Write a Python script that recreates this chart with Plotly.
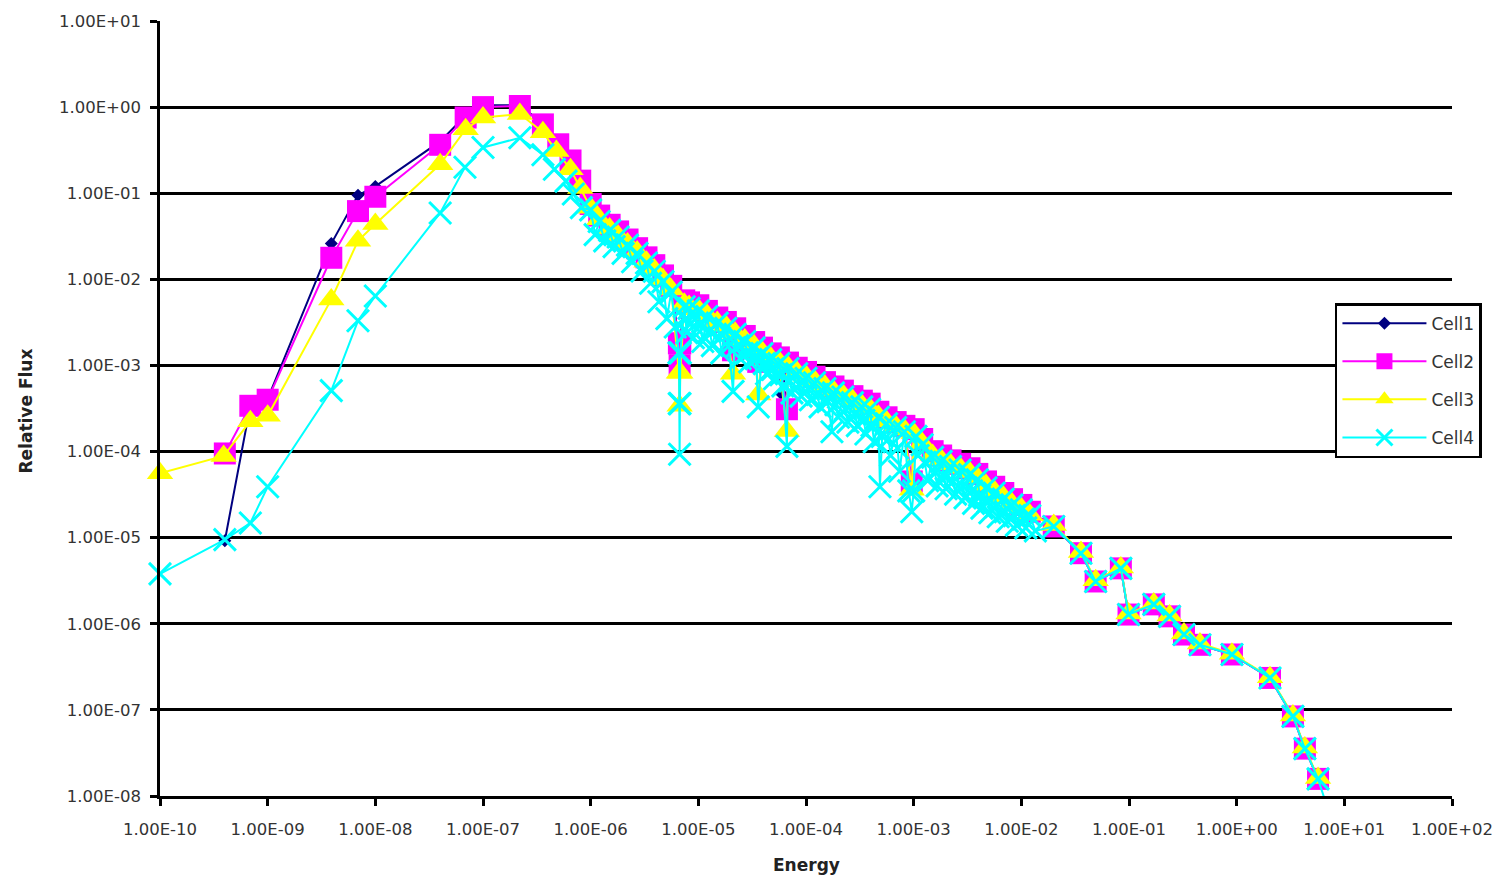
import plotly.graph_objects as go

# ---------------- data ----------------
series_names = ["Cell1", "Cell2", "Cell3", "Cell4"]

# Cell1
cell1_energy_low = [4e-10, 6.9e-10, 1e-9, 3.9e-9, 6.9e-9, 1e-8, 4e-8, 6.9e-8, 1e-7, 2.2e-7, 3.6e-7, 5e-7, 6.5e-7, 8e-7]
cell1_flux_low = [9.2e-6, 3.4e-4, 4.1e-4, 0.026, 0.095, 0.12, 0.40, 0.80, 1.05, 1.05, 0.64, 0.38, 0.24, 0.14]
cell1_energy_mid = [1e-6, 1.2e-6, 1.5e-6, 1.8e-6, 2.2e-6, 2.7e-6, 3.3e-6, 3.9e-6, 4.7e-6, 5.6e-6, 6.6e-6, 6.7e-6, 6.8e-6,
                    7.4e-6, 8.2e-6, 1e-5, 1.2e-5, 1.5e-5, 1.8e-5, 2.2e-5, 2.7e-5, 3.3e-5, 3.9e-5, 4.7e-5, 5.6e-5, 5.9e-5,
                    6.8e-5, 8.2e-5, 1e-4, 1.2e-4, 1.5e-4, 1.8e-4, 2.2e-4, 2.7e-4, 3.3e-4, 3.9e-4, 4.7e-4, 5.6e-4, 6.8e-4,
                    8.2e-4, 1e-3, 1.2e-3, 1.5e-3, 1.8e-3, 2.2e-3, 2.7e-3, 3.3e-3, 3.9e-3, 4.7e-3, 5.6e-3, 6.8e-3, 8.2e-3,
                    1e-2, 1.2e-2]
cell1_flux_mid = [0.076, 0.056, 0.044, 0.037, 0.029, 0.023, 0.018, 0.0147, 0.0112, 0.0085, 0.0019, 0.0011, 0.0019,
                  0.0058, 0.0055, 0.0051, 0.0044, 0.0036, 0.0032, 0.0027, 0.0022, 0.0019, 0.0016, 0.0014, 0.00125, 0.00047,
                  0.0011, 0.00095, 0.00085, 0.00075, 0.00065, 0.00058, 0.00052, 0.00045, 0.0004, 0.00036, 0.0003, 0.00025,
                  0.00022, 0.0002, 0.00018, 0.00014, 0.0001, 9.0e-5, 8.0e-5, 7.2e-5, 6.4e-5, 5.5e-5, 4.5e-5, 3.9e-5,
                  3.3e-5, 2.8e-5, 2.4e-5, 2.0e-5]

# shared fast-energy tail grid
tail_energy = [0.02, 0.0358, 0.049, 0.084, 0.099, 0.17, 0.238, 0.324, 0.456, 0.904, 2.04, 3.33, 4.3, 5.7]
cell1_flux_tail = [1.35e-5, 6.6e-6, 3.1e-6, 4.4e-6, 1.28e-6, 1.68e-6, 1.22e-6, 7.5e-7, 5.7e-7, 4.4e-7, 2.35e-7, 8.4e-8, 3.55e-8, 1.58e-8]

# Cell2
cell2_energy_low = [4e-10, 6.9e-10, 1e-9, 3.9e-9, 6.9e-9, 1e-8, 4e-8, 6.9e-8, 1e-7, 2.2e-7, 3.6e-7, 5e-7, 6.5e-7, 8e-7]
cell2_flux_low = [9.5e-5, 3.4e-4, 4.0e-4, 0.0178, 0.062, 0.091, 0.365, 0.757, 1.0, 1.03, 0.63, 0.37, 0.24, 0.14]
# shared epithermal grid for Cell2 / Cell3
mid_energy = [1e-6, 1.2e-6, 1.5e-6, 1.8e-6, 2.2e-6, 2.7e-6, 3.3e-6, 3.9e-6, 4.7e-6, 5.6e-6, 6.6e-6, 6.7e-6, 6.8e-6,
              7.4e-6, 8.2e-6, 1e-5, 1.2e-5, 1.5e-5, 1.8e-5, 2.1e-5, 2.2e-5, 2.7e-5, 3.3e-5, 3.6e-5, 3.9e-5, 4.7e-5,
              5.6e-5, 6.65e-5, 6.8e-5, 8.2e-5, 1e-4, 1.2e-4, 1.5e-4, 1.8e-4, 2.2e-4, 2.7e-4, 3.3e-4, 3.9e-4, 4.7e-4,
              5.6e-4, 6.8e-4, 8.2e-4, 9.6e-4, 1e-3, 1.2e-3, 1.5e-3, 1.8e-3, 2.2e-3, 2.7e-3, 3.3e-3, 3.9e-3, 4.7e-3,
              5.6e-3, 6.8e-3, 8.2e-3, 1e-2, 1.2e-2]
cell2_flux_mid = [0.075, 0.055, 0.043, 0.036, 0.029, 0.023, 0.018, 0.0146, 0.0111, 0.0084, 0.0018, 0.001, 0.0018,
                  0.0057, 0.0054, 0.005, 0.0043, 0.0036, 0.0032, 0.0015, 0.0027, 0.0022, 0.00187, 0.0011, 0.00161,
                  0.00138, 0.00124, 0.00031, 0.00108, 0.00094, 0.00084, 0.00074, 0.00064, 0.00057, 0.00051, 0.00044,
                  0.00039, 0.00036, 0.00029, 0.00025, 0.00022, 0.000199, 4.5e-5, 0.000182, 0.00014, 0.000101, 9.0e-5,
                  7.9e-5, 7.2e-5, 6.4e-5, 5.5e-5, 4.5e-5, 3.9e-5, 3.3e-5, 2.8e-5, 2.4e-5, 2.0e-5]
cell2_flux_tail = [1.35e-5, 6.6e-6, 3.1e-6, 4.4e-6, 1.28e-6, 1.68e-6, 1.22e-6, 7.5e-7, 5.7e-7, 4.4e-7, 2.35e-7, 8.4e-8, 3.55e-8, 1.58e-8]

# Cell3
cell3_energy_low = [1e-10, 3.9e-10, 6.9e-10, 1e-9, 3.9e-9, 6.9e-9, 1e-8, 4e-8, 6.9e-8, 1e-7, 2.2e-7, 3.6e-7, 4.8e-7, 6.5e-7, 8e-7]
cell3_flux_low = [5.6e-5, 8.9e-5, 2.25e-4, 2.6e-4, 5.85e-3, 0.028, 0.044, 0.217, 0.555, 0.757, 0.83, 0.51, 0.31, 0.19, 0.115]
cell3_flux_mid = [0.068, 0.05, 0.039, 0.032, 0.026, 0.021, 0.016, 0.013, 0.010, 0.0076, 8.2e-4, 3.4e-4, 8.2e-4,
                  0.0052, 0.0049, 0.0045, 0.0039, 0.0032, 0.0029, 8e-4, 0.0024, 0.002, 0.0017, 4.6e-4, 0.00145,
                  0.00124, 0.00112, 1.73e-4, 0.00097, 0.00085, 0.00076, 0.00067, 0.00058, 0.00051, 0.00046, 0.0004,
                  0.00035, 0.00032, 0.00026, 0.000225, 0.0002, 0.00018, 3.6e-5, 0.000164, 0.000126, 9.1e-5, 8.1e-5,
                  7.1e-5, 6.5e-5, 5.8e-5, 5.0e-5, 4.1e-5, 3.5e-5, 3.0e-5, 2.5e-5, 2.2e-5, 1.85e-5]
cell3_flux_tail = [1.4e-5, 6.8e-6, 3.2e-6, 4.5e-6, 1.32e-6, 1.72e-6, 1.25e-6, 7.7e-7, 5.9e-7, 4.5e-7, 2.4e-7, 8.6e-8, 3.65e-8, 1.62e-8]

# Cell4
cell4_energy_low = [1e-10, 4e-10, 6.9e-10, 1e-9, 3.9e-9, 6.9e-9, 1e-8, 4e-8, 6.8e-8, 1e-7, 2.2e-7, 3.6e-7, 4.6e-7, 5.9e-7, 6.9e-7, 8.2e-7]
cell4_flux_low = [3.8e-6, 9.5e-6, 1.48e-5, 3.9e-5, 5.1e-4, 3.3e-3, 6.4e-3, 0.059, 0.20, 0.34, 0.44, 0.28, 0.19, 0.138, 0.098, 0.068]
cell4_energy_mid = [1e-6, 1.1e-6, 1.2e-6, 1.35e-6, 1.5e-6, 1.65e-6, 1.8e-6, 2.0e-6, 2.2e-6, 2.45e-6, 2.7e-6, 3.0e-6,
                    3.3e-6, 3.6e-6, 3.9e-6, 4.3e-6, 4.7e-6, 5.1e-6, 5.6e-6, 6.1e-6, 6.6e-6, 6.65e-6, 6.7e-6, 6.75e-6,
                    6.8e-6,
                    7.4e-6, 7.6e-6, 7.8e-6, 8.2e-6, 8.6e-6, 9.0e-6, 1e-5, 1.05e-5, 1.1e-5, 1.2e-5, 1.27e-5, 1.35e-5,
                    1.5e-5, 1.57e-5, 1.65e-5, 1.8e-5, 1.9e-5, 2.1e-5, 2.2e-5, 2.32e-5, 2.45e-5, 2.7e-5, 2.85e-5, 3.0e-5,
                    3.3e-5, 3.45e-5, 3.6e-5, 3.9e-5, 4.1e-5, 4.3e-5, 4.7e-5, 4.9e-5, 5.1e-5, 5.6e-5, 5.85e-5, 6.1e-5,
                    6.65e-5, 6.8e-5, 7.1e-5, 7.4e-5, 8.2e-5, 8.6e-5, 9.0e-5, 1e-4, 1.05e-4, 1.1e-4, 1.2e-4, 1.27e-4,
                    1.35e-4, 1.5e-4, 1.6e-4, 1.74e-4, 1.8e-4, 1.9e-4, 2.0e-4, 2.2e-4, 2.32e-4, 2.45e-4, 2.7e-4,
                    2.85e-4, 3.0e-4, 3.3e-4, 3.45e-4, 3.6e-4, 3.9e-4, 4.1e-4, 4.3e-4, 4.7e-4, 4.86e-4, 5.1e-4, 5.6e-4,
                    5.85e-4, 6.1e-4, 6.8e-4, 7.1e-4, 7.4e-4, 8.2e-4, 9.0e-4, 9.6e-4, 1e-3, 1.05e-3, 1.1e-3, 1.2e-3,
                    1.27e-3, 1.35e-3, 1.5e-3, 1.57e-3, 1.65e-3, 1.8e-3, 1.9e-3, 2.0e-3, 2.2e-3, 2.32e-3, 2.45e-3,
                    2.7e-3, 2.85e-3, 3.0e-3, 3.3e-3, 3.45e-3, 3.6e-3, 3.9e-3, 4.1e-3, 4.3e-3, 4.7e-3, 4.9e-3, 5.1e-3,
                    5.6e-3, 5.85e-3, 6.1e-3, 6.8e-3, 7.1e-3, 7.4e-3, 8.2e-3, 8.6e-3, 9.0e-3, 1e-2, 1.05e-2, 1.1e-2,
                    1.2e-2, 1.35e-2]
cell4_flux_mid = [0.064, 0.033, 0.047, 0.028, 0.037, 0.024, 0.031, 0.020, 0.025, 0.016, 0.020, 0.0125,
                  0.0155, 0.009, 0.0124, 0.0055, 0.0094, 0.0035, 0.0071, 0.0028, 0.0014, 3.6e-4, 9.3e-5, 3.6e-4,
                  0.0014,
                  0.0048, 0.0034, 0.0024, 0.0046, 0.0031, 0.0021, 0.0043, 0.0029, 0.0019, 0.0037, 0.0025, 0.0017,
                  0.0031, 0.0021, 0.0014, 0.0027, 0.0019, 5.0e-4, 0.0023, 0.0017, 0.0012, 0.0019, 0.0014, 0.0011,
                  0.0016, 0.0012, 3.3e-4, 0.00137, 0.00105, 8.0e-4, 0.00117, 9.0e-4, 7.0e-4, 0.00105, 7.8e-4, 5.8e-4,
                  1.15e-4, 0.00092, 6.6e-4, 4.8e-4, 0.0008, 6.0e-4, 4.4e-4, 0.00071, 5.3e-4, 4.0e-4, 0.00063, 4.6e-4,
                  3.3e-4, 0.00054, 3.8e-4, 1.7e-4, 0.00048, 3.5e-4, 2.5e-4, 0.00043, 3.1e-4, 2.2e-4, 0.00037,
                  2.7e-4, 2.0e-4, 0.00033, 2.3e-4, 1.6e-4, 0.00031, 2.0e-4, 1.3e-4, 0.00025, 3.9e-5, 1.5e-4, 0.00021,
                  1.4e-4, 9e-5, 0.00019, 1.1e-4, 5.9e-5, 0.00017, 3.5e-5, 2.0e-5, 3.5e-5, 0.00015, 9.0e-5, 0.00012,
                  7.5e-5, 4.6e-5, 8.6e-5, 5.8e-5, 4.0e-5, 7.7e-5, 5.2e-5, 3.7e-5, 6.7e-5, 4.5e-5, 3.2e-5,
                  6.1e-5, 4.0e-5, 2.9e-5, 5.4e-5, 3.5e-5, 2.5e-5, 4.7e-5, 3.1e-5, 2.2e-5, 3.8e-5, 2.6e-5, 1.95e-5,
                  3.3e-5, 2.3e-5, 1.75e-5, 2.8e-5, 2.0e-5, 1.55e-5, 2.4e-5, 1.8e-5, 1.4e-5, 2.1e-5, 1.65e-5, 1.3e-5,
                  1.8e-5, 1.2e-5]
cell4_energy_tail = [0.02, 0.0358, 0.049, 0.084, 0.099, 0.17, 0.238, 0.324, 0.456, 0.904, 2.04, 3.33, 4.3, 5.7, 6.6]
cell4_flux_tail = [1.35e-5, 6.6e-6, 3.1e-6, 4.4e-6, 1.28e-6, 1.68e-6, 1.22e-6, 7.5e-7, 5.7e-7, 4.4e-7, 2.35e-7, 8.4e-8, 3.55e-8, 1.58e-8, 9e-9]

# axis ticks
y_tick_values = [1e-8, 1e-7, 1e-6, 1e-5, 1e-4, 1e-3, 1e-2, 1e-1, 1e0, 1e1]
y_tick_text = ["1.00E-08", "1.00E-07", "1.00E-06", "1.00E-05", "1.00E-04", "1.00E-03", "1.00E-02", "1.00E-01", "1.00E+00", "1.00E+01"]
x_tick_values = [1e-10, 1e-9, 1e-8, 1e-7, 1e-6, 1e-5, 1e-4, 1e-3, 1e-2, 1e-1, 1e0, 1e1, 1e2]
x_tick_text = ["1.00E-10", "1.00E-09", "1.00E-08", "1.00E-07", "1.00E-06", "1.00E-05", "1.00E-04", "1.00E-03",
               "1.00E-02", "1.00E-01", "1.00E+00", "1.00E+01", "1.00E+02"]

# ---------------- assemble ----------------
series_x = [
    cell1_energy_low + cell1_energy_mid + tail_energy,
    cell2_energy_low + mid_energy + tail_energy,
    cell3_energy_low + mid_energy + tail_energy,
    cell4_energy_low + cell4_energy_mid + cell4_energy_tail,
]
series_y = [
    cell1_flux_low + cell1_flux_mid + cell1_flux_tail,
    cell2_flux_low + cell2_flux_mid + cell2_flux_tail,
    cell3_flux_low + cell3_flux_mid + cell3_flux_tail,
    cell4_flux_low + cell4_flux_mid + cell4_flux_tail,
]

colors = ["#000080", "#FF00FF", "#FFFF00", "#00FFFF"]
markers = [
    dict(symbol="diamond", size=10, color="#000080", line=dict(width=0)),
    dict(symbol="square", size=22, color="#FF00FF", line=dict(width=0)),
    dict(symbol="triangle-up", size=23, color="#FFFF00", line=dict(width=0)),
    dict(symbol="x-thin", size=22, color="#00FFFF", line=dict(width=3, color="#00FFFF")),
]

FONT = "DejaVu Sans"

fig = go.Figure()
for i, name in enumerate(series_names):
    fig.add_trace(go.Scatter(
        x=series_x[i], y=series_y[i], name=name, mode="lines+markers",
        line=dict(color=colors[i], width=2), marker=markers[i],
        cliponaxis=False, legendgroup=name,
    ))

fig.update_layout(
    width=1505, height=875,
    margin=dict(l=160, r=53, t=19, b=79),
    paper_bgcolor="white", plot_bgcolor="white",
    font=dict(family=FONT, size=16, color="#333333"),
    showlegend=True,
    legend=dict(
        x=0.9094, y=0.636, xanchor="left", yanchor="top",
        bordercolor="black", borderwidth=2.5, bgcolor="white",
        font=dict(family=FONT, size=17, color="#333333"),
        tracegroupgap=13, itemwidth=84,
    ),
    xaxis=dict(
        type="log", range=[-10, 2], tickvals=x_tick_values, ticktext=x_tick_text,
        showgrid=False, zeroline=False, showline=True, linecolor="black", linewidth=2.5,
        ticks="outside", ticklen=7, tickwidth=2.5, tickcolor="black",
        tickfont=dict(family=FONT, size=16.5, color="#333333"), ticklabelstandoff=9,
    ),
    yaxis=dict(
        type="log", range=[-8, 1], tickvals=y_tick_values, ticktext=y_tick_text,
        showgrid=True, gridcolor="black", gridwidth=2.5, zeroline=False,
        showline=True, linecolor="black", linewidth=2.5,
        ticks="outside", ticklen=7, tickwidth=2.5, tickcolor="black",
        tickfont=dict(family=FONT, size=16.5, color="#333333"), ticklabelstandoff=6,
    ),
    annotations=[
        dict(text="<b>Energy</b>", xref="paper", yref="paper", x=0.5, y=0, yshift=-69,
             showarrow=False, font=dict(family=FONT, size=17, color="#222222"), xanchor="center", yanchor="middle"),
        dict(text="<b>Relative Flux</b>", xref="paper", yref="paper", x=0, xshift=-135, y=0.5, yshift=-3,
             showarrow=False, textangle=-90, font=dict(family=FONT, size=17, color="#222222"),
             xanchor="center", yanchor="middle"),
    ],
)

fig.write_html("out.html")
